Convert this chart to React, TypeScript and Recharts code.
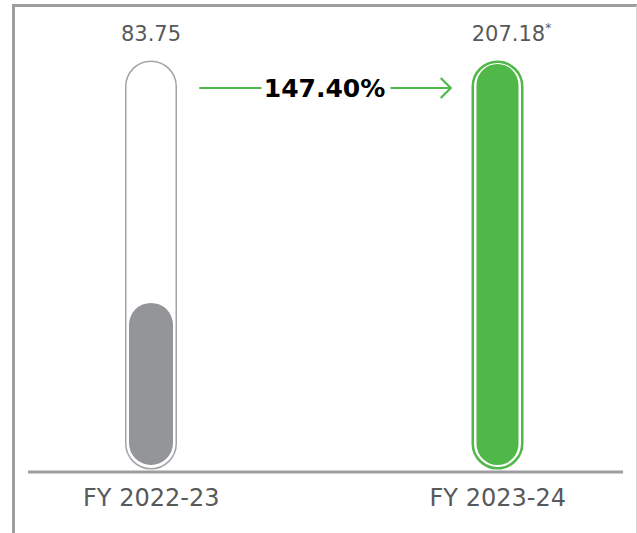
import React from "react";
import { BarChart, Bar, XAxis, YAxis, ReferenceLine } from "recharts";

const categories = ["FY 2022-23", "FY 2023-24"];
const values = [83.75, 207.18];
const valueLabels = ["83.75", "207.18"];
const valueNotes = ["", "*"];
const growthLabel = "147.40%";

const data = categories.map((name, i) => ({
  name,
  value: values[i],
  label: valueLabels[i],
  note: valueNotes[i],
}));

const FONT = '"DejaVu Sans", Verdana, sans-serif';
const TEXT = "#58595b";
const LINE = "#9d9d9f";
const GREEN = "#50b848";

// look of each tube, by position
const tubeStyles = [
  { outline: "#a2a4a7", outlineWidth: 1.5, fill: "#939598", inset: 4, labelShift: 0 },
  { outline: GREEN, outlineWidth: 2.5, fill: GREEN, inset: 5, labelShift: 14 },
];

function Tube(props: any) {
  const { x, y, width, height, index, background, payload } = props;
  const s = tubeStyles[index] ?? tubeStyles[0];
  const bg = background ?? { x, y, width, height };
  const half = s.outlineWidth / 2;
  const oTop = bg.y + half + 0.5;
  const oBottom = bg.y + bg.height - 2.5 - half;
  const ow = width - s.outlineWidth;
  const fw = width - 2 * s.inset;
  const cx = x + width / 2;
  return (
    <g>
      <rect
        x={x + half}
        y={oTop}
        width={ow}
        height={oBottom - oTop}
        rx={ow / 2}
        fill="#fff"
        stroke={s.outline}
        strokeWidth={s.outlineWidth}
      />
      {height > 0 && (
        <rect x={x + s.inset} y={y - 7} width={fw} height={height} rx={fw / 2} fill={s.fill} />
      )}
      <text
        x={cx + s.labelShift}
        y={bg.y - 19}
        textAnchor="middle"
        fontFamily={FONT}
        fontSize={21}
        fill={TEXT}
      >
        {payload.label}
        {payload.note && (
          <tspan fontSize={12} dy={-9}>
            {payload.note}
          </tspan>
        )}
      </text>
    </g>
  );
}

function GrowthArrow(props: any) {
  const { x1, x2, y1 } = props;
  const y = y1 + 17;
  const mid = (x1 + x2) / 2;
  const start = x1 + 48;
  const tip = x2 - 47;
  return (
    <g>
      <line x1={start} y1={y} x2={mid - 63} y2={y} stroke={GREEN} strokeWidth={2.2} />
      <line x1={mid + 66} y1={y} x2={tip} y2={y} stroke={GREEN} strokeWidth={2.2} />
      <polyline
        points={`${tip - 10},${y - 10} ${tip},${y} ${tip - 10},${y + 10}`}
        fill="none"
        stroke={GREEN}
        strokeWidth={2.2}
      />
      <text x={mid} y={y + 9} textAnchor="middle" fontFamily={FONT} fontWeight="bold" fontSize={25} fill="#000">
        {growthLabel}
      </text>
    </g>
  );
}

export default function App() {
  return (
    <div style={{ position: "absolute", left: 0, top: 0, width: 637, height: 533, background: "#fff" }}>
      <div
        style={{
          position: "absolute",
          left: 12,
          top: 4,
          width: 625,
          height: 529,
          boxSizing: "border-box",
          borderTop: `3px solid ${LINE}`,
          borderLeft: `3px solid ${LINE}`,
          borderRight: "1px solid #d6d6d6",
        }}
      />
      <div style={{ position: "absolute", left: 0, top: 0 }}>
        <BarChart
          width={637}
          height={533}
          data={data}
          margin={{ top: 60, right: 14, bottom: 21, left: 28 }}
          barSize={52}
        >
          <XAxis
            dataKey="name"
            height={40}
            padding={{ left: -50, right: -48 }}
            axisLine={{ stroke: LINE, strokeWidth: 3 }}
            tickLine={false}
            tickSize={0}
            tickMargin={17}
            interval={0}
            tick={{ fill: TEXT, fontSize: 24, fontFamily: FONT }}
          />
          <YAxis hide domain={[0, (m: number) => m * 1.0274]} />
          <Bar dataKey="value" shape={<Tube />} isAnimationActive={false} />
          <ReferenceLine
            segment={[
              { x: categories[0], y: values[1] },
              { x: categories[1], y: values[1] },
            ]}
            shape={(p: any) => <GrowthArrow {...p} />}
          />
        </BarChart>
      </div>
    </div>
  );
}
